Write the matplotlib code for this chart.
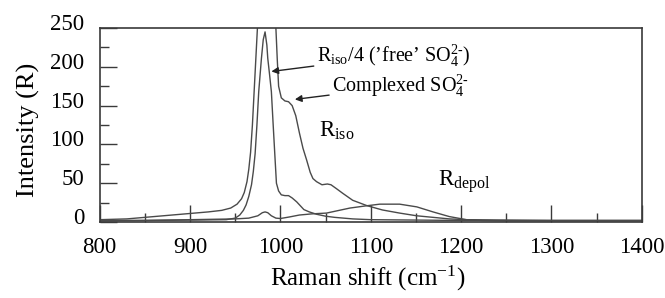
#!/usr/bin/env python3
"""
Raman spectrum of sulfate: isotropic and depolarised components
"""
import matplotlib
matplotlib.use("Agg")
import matplotlib.pyplot as plt
from matplotlib.ticker import MultipleLocator
from matplotlib.transforms import ScaledTranslation

plt.rcParams['font.family'] = ['Liberation Serif', 'DejaVu Serif']
plt.rcParams['mathtext.fontset'] = 'custom'
plt.rcParams['mathtext.rm'] = 'Liberation Serif'
plt.rcParams['mathtext.it'] = 'Liberation Serif:italic'
plt.rcParams['mathtext.bf'] = 'Liberation Serif:bold'

# R_iso (full scale, runs off the top of the axes)
iso_x = [800, 830, 850, 880, 900, 920, 935, 945, 952, 957, 960, 963, 965, 967,
         969, 971, 973, 975, 978, 983, 988, 992, 995, 996.5, 998, 1001, 1005,
         1009, 1013, 1017, 1021, 1025, 1029, 1033, 1036, 1040, 1046, 1052, 1056,
         1062, 1069, 1080, 1096, 1113, 1132, 1151, 1169, 1187, 1206, 1250, 1300,
         1350, 1400]
iso_y = [3, 4, 6, 9, 11, 13, 15, 18, 23, 30, 38, 52, 68, 90,
         125, 170, 215, 260, 550, 980, 700, 400, 250, 210, 175, 160, 156,
         155, 150, 137, 115, 95, 80, 64, 56, 52, 48, 49, 48,
         43, 37, 28, 21, 15.5, 11.5, 8, 6, 4, 3, 2.5, 2,
         2, 2]

# R_iso / 4 ('free' sulfate band)
iso4_x = [800, 850, 900, 940, 950, 955, 959, 962, 965, 968, 970, 972, 974, 976,
          979, 981, 983, 985, 986, 988, 990, 992, 994, 995.6, 998, 1001, 1005,
          1009, 1013, 1018, 1022, 1026, 1032, 1040, 1050, 1060, 1080, 1100, 1150,
          1200, 1300, 1400]
iso4_y = [2, 2, 2.5, 3, 5, 9, 15, 22, 33, 48, 65, 88, 125, 168,
          211, 235, 245, 228, 211, 190, 168, 125, 83, 50, 40, 35, 34,
          34, 31, 26, 21, 16, 13, 10, 7.5, 6, 4, 3, 2.5,
          2, 2, 2]

# R_depol
dep_x = [800, 850, 900, 950, 965, 975, 980, 983, 986, 990, 995, 1000, 1010,
         1021, 1035, 1051, 1065, 1077, 1096, 1110, 1132, 1151, 1169, 1187, 1206,
         1224, 1250, 1300, 1400]
dep_y = [1.5, 2, 3, 4, 5, 8, 12, 13, 12, 8, 5, 4.5, 6.5,
         9, 10.5, 11.5, 15, 18, 21, 23, 23, 19.5, 13, 7, 3,
         2, 1.5, 1.5, 1.5]

x_ticks = [800, 900, 1000, 1100, 1200, 1300, 1400]
y_ticks = [0, 50, 100, 150, 200, 250]

line_col = '#4a4a4a'
axis_col = '#3a3a3a'


def main():
    fig = plt.figure(figsize=(6.65, 2.98), dpi=100, facecolor='white')
    ax = fig.add_axes([0.150, 0.255, 0.815, 0.651])

    ax.plot(iso_x, iso_y, color=line_col, linewidth=1.0)
    ax.plot(iso4_x, iso4_y, color=line_col, linewidth=1.0)
    ax.plot(dep_x, dep_y, color=line_col, linewidth=1.0)

    ax.set_xlim(800, 1400)
    ax.set_ylim(0, 250)
    ax.set_xticks(x_ticks)
    ax.set_yticks(y_ticks)
    ax.xaxis.set_minor_locator(MultipleLocator(50))
    ax.yaxis.set_minor_locator(MultipleLocator(25))

    ax.tick_params(which='major', direction='in', length=12.5, width=1.0,
                   color=axis_col, labelsize=16.5, pad=11)
    ax.tick_params(which='minor', direction='in', length=6.5, width=1.0,
                   color=axis_col)
    ax.tick_params(axis='x', which='major', pad=11)

    # y tick labels sit a little above their ticks in the original
    shift = ScaledTranslation(0, 6 / 100, fig.dpi_scale_trans)
    for lab in ax.get_yticklabels():
        lab.set_transform(lab.get_transform() + shift)

    for spine in ax.spines.values():
        spine.set_edgecolor(axis_col)
        spine.set_linewidth(1.2)

    ax.set_ylabel('Intensity (R)', fontsize=19)
    ax.yaxis.set_label_coords(-0.11, 0.474)
    ax.set_xlabel('Raman shift (cm$^{\\mathrm{-1}}$)', fontsize=18)
    ax.xaxis.set_label_coords(0.494, -0.215)

    ax.annotate('R$_{\\mathrm{iso}}$/4 (\u2019free\u2019 SO$_4^{2\u2010}$)',
                xy=(990, 194), xytext=(1040, 214),
                fontsize=14.5, va='center', ha='left',
                arrowprops=dict(arrowstyle='-|>', color='#222222', lw=1.0,
                                mutation_scale=10, shrinkA=0, shrinkB=0))
    ax.annotate('Complexed SO$_4^{2\u2010}$',
                xy=(1016, 158), xytext=(1057, 175),
                fontsize=14.5, va='center', ha='left',
                arrowprops=dict(arrowstyle='-|>', color='#222222', lw=1.0,
                                mutation_scale=10, shrinkA=0, shrinkB=0))
    ax.text(1043, 117, 'R$_{\\mathrm{iso}}$', fontsize=16.5, va='center', ha='left')
    ax.text(1174, 52, 'R$_{\\mathrm{depol}}$', fontsize=16.5, va='center', ha='left')

    fig.savefig('out.png', dpi=100, facecolor='white')
    plt.close(fig)


if __name__ == "__main__":
    main()
